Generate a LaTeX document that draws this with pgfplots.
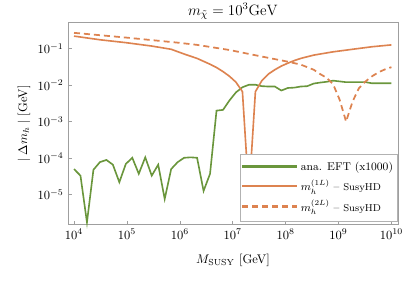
\documentclass[border=0pt]{standalone}
\usepackage{pgfplots}
\pgfplotsset{compat=1.18}
\definecolor{cgreen}{RGB}{106,150,60}
\definecolor{corange}{RGB}{221,131,80}
\begin{document}
\begin{tikzpicture}
\begin{axis}[
  scale only axis, width=264pt, height=161.6pt,
  xmode=log, ymode=log,
  xmin=7.7e3, xmax=1.33e10,
  ymin=1.5e-6, ymax=0.51,
  xtick={1e4,1e5,1e6,1e7,1e8,1e9,1e10},
  ytick={1e-5,1e-4,1e-3,1e-2,1e-1},
  xminorticks=false, yminorticks=false,
  tick align=inside, xtick pos=bottom, ytick pos=left,
  major tick length=3.2pt,
  axis line style={gray!75, line width=0.5pt},
  every tick/.style={gray!75},
  title={$m_{\tilde{\chi}} = 10^3\mathrm{GeV}$},
  title style={yshift=-7pt, font=\large},
  xlabel={$M_{\mathrm{SUSY}}$ [GeV]},
  ylabel={$|\;\Delta m_h\;|$ [GeV]},
  xlabel style={yshift=-5pt},
  ylabel style={yshift=-1pt},
  clip=false,
  legend cell align=left,
  legend style={at={(0.997,0.017)}, anchor=south east, draw=gray!60, fill=white,
    font=\small, inner xsep=1pt, inner ysep=4pt, row sep=2pt},
  legend image code/.code={\draw[#1, line width=1.8pt] (0pt,0.3pt) -- (44pt,0.3pt);},
]
\addplot[cgreen, line width=1.3pt] coordinates {
(1.000e4,5.01e-5) (1.326e4,3.31e-5) (1.758e4,1.74e-6) (2.330e4,4.79e-5) (3.089e4,7.76e-5)
(4.095e4,8.91e-5) (5.429e4,6.61e-5) (7.197e4,2.19e-5) (9.541e4,6.92e-5) (1.265e5,1.02e-4)
(1.677e5,3.72e-5) (2.223e5,1.05e-4) (2.947e5,3.31e-5) (3.907e5,6.61e-5) (5.179e5,7.59e-6)
(6.866e5,5.01e-5) (9.103e5,7.76e-5) (1.207e6,1.02e-4) (1.600e6,1.05e-4) (2.121e6,1.02e-4)
(2.812e6,1.26e-5) (3.728e6,3.72e-5) (4.942e6,2.00e-3) (6.551e6,2.09e-3) (8.685e6,3.80e-3)
(1.151e7,6.31e-3) (1.526e7,8.71e-3) (2.024e7,1.02e-2) (2.683e7,1.02e-2) (3.556e7,9.33e-3)
(4.715e7,9.12e-3) (6.251e7,9.12e-3) (8.286e7,7.08e-3) (1.099e8,8.32e-3) (1.456e8,8.51e-3)
(1.931e8,9.12e-3) (2.560e8,9.33e-3) (3.393e8,1.10e-2) (4.498e8,1.17e-2) (5.964e8,1.23e-2)
(7.906e8,1.32e-2) (1.048e9,1.26e-2) (1.389e9,1.20e-2) (1.842e9,1.20e-2) (2.442e9,1.20e-2)
(3.237e9,1.20e-2) (4.292e9,1.12e-2) (5.690e9,1.12e-2) (7.543e9,1.12e-2) (1.000e10,1.12e-2)
};
\addlegendentry{ana. EFT (x1000)}
\addplot[corange, line width=1.3pt] coordinates {
(1.000e4,0.219) (3.089e4,0.174) (9.541e4,0.145) (2.947e5,0.117) (6.866e5,0.0955)
(1.207e6,0.0708) (2.121e6,0.0537) (2.812e6,0.0447) (3.728e6,0.0372) (4.942e6,0.0302)
(6.551e6,0.0234) (8.685e6,0.0174) (1.151e7,0.0120) (1.526e7,0.00661) (2.024e7,1.0e-5)
(2.683e7,0.00661) (3.556e7,0.0132) (4.715e7,0.0200) (6.251e7,0.0263) (8.286e7,0.0331)
(1.099e8,0.0398) (1.456e8,0.0468) (1.931e8,0.0537) (3.393e8,0.0661) (7.906e8,0.0813)
(1.842e9,0.0955) (4.292e9,0.112) (1.000e10,0.126)
};
\addlegendentry{$m_h^{(1L)}$ -- {\footnotesize SusyHD}}
\addplot[corange, line width=1.4pt, dash pattern=on 4.8pt off 3.2pt] coordinates {
(1.000e4,0.269) (9.541e4,0.200) (9.103e5,0.145) (2.121e6,0.126) (8.685e6,0.0912)
(3.556e7,0.0603) (1.099e8,0.0437) (1.931e8,0.0363) (3.393e8,0.0263) (4.498e8,0.0200)
(5.964e8,0.0158) (7.906e8,0.0105) (1.048e9,0.00398) (1.389e9,0.00100) (1.842e9,0.00355)
(2.442e9,0.00832) (3.237e9,0.0126) (4.292e9,0.0174) (5.690e9,0.0224) (7.543e9,0.0269)
(1.000e10,0.0309)
};
\addlegendentry{$m_h^{(2L)}$ -- {\footnotesize SusyHD}}
\coordinate (bl) at (rel axis cs:-0.206,-0.2946);
\coordinate (tr) at (rel axis cs:1.0273,1.1124);
\end{axis}
\pgfresetboundingbox
\path (bl) rectangle (tr);
\end{tikzpicture}
\end{document}
